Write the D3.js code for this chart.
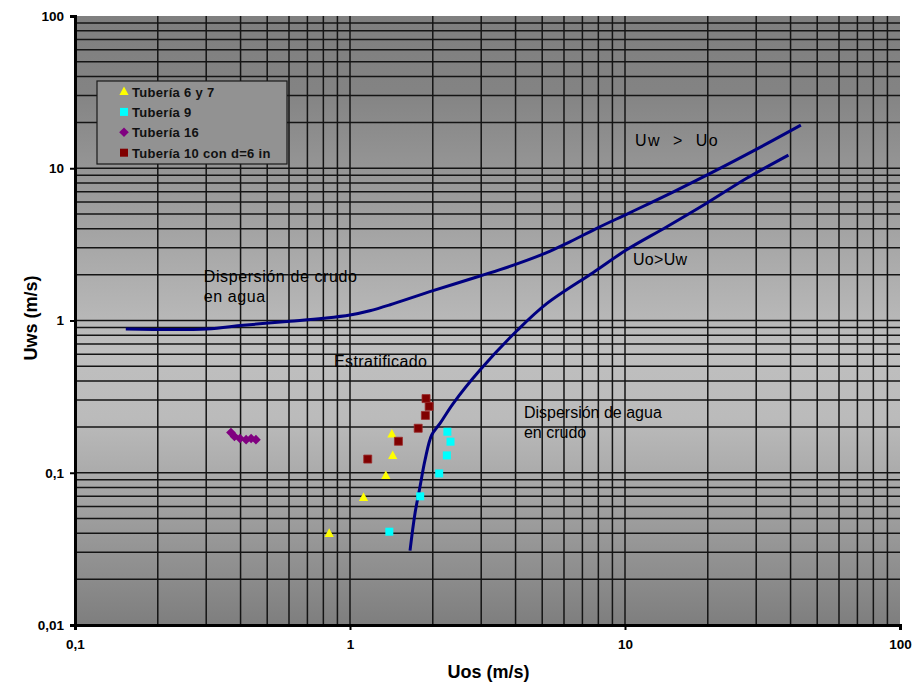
<!DOCTYPE html>
<html>
<head>
<meta charset="utf-8">
<script src="https://cdn.jsdelivr.net/npm/d3@7"></script>
<style>
    body { margin: 0; background: #fff; }
    svg text { font-family: "Liberation Sans", Arial, sans-serif; }
</style>
</head>
<body>
<div id="chart"></div>
<script>
// Series (Uos, Uws in m/s)
const tub67 = [
    {x: 0.84, y: 0.040}, {x: 1.12, y: 0.069}, {x: 1.35, y: 0.096},
    {x: 1.43, y: 0.13}, {x: 1.42, y: 0.18}
];
const tub9 = [
    {x: 1.39, y: 0.041}, {x: 1.80, y: 0.070}, {x: 2.11, y: 0.099},
    {x: 2.25, y: 0.13}, {x: 2.32, y: 0.16}, {x: 2.26, y: 0.186}
];
const tub16 = [
    {x: 0.369, y: 0.184}, {x: 0.380, y: 0.173}, {x: 0.398, y: 0.168},
    {x: 0.419, y: 0.165}, {x: 0.437, y: 0.168}, {x: 0.455, y: 0.165}
];
const tub10 = [
    {x: 1.89, y: 0.307}, {x: 1.94, y: 0.273}, {x: 1.88, y: 0.238},
    {x: 1.77, y: 0.196}, {x: 1.50, y: 0.161}, {x: 1.16, y: 0.123}
];

// Transition boundaries
const curveUwUo = [
    {x: 0.153, y: 0.879}, {x: 0.301, y: 0.879}, {x: 0.409, y: 0.930},
    {x: 0.605, y: 0.988}, {x: 0.80, y: 1.034}, {x: 1.0, y: 1.087},
    {x: 1.18, y: 1.16}, {x: 1.40, y: 1.27}, {x: 1.95, y: 1.546},
    {x: 2.97, y: 1.96}, {x: 3.93, y: 2.31}, {x: 5.19, y: 2.79},
    {x: 6.14, y: 3.21}, {x: 7.89, y: 4.03}, {x: 10.4, y: 5.1},
    {x: 15.0, y: 7.0}, {x: 21.0, y: 9.5}, {x: 29.3, y: 13.0},
    {x: 43.6, y: 19.2}
];
const curveUoUw = [
    {x: 1.653, y: 0.0308}, {x: 1.723, y: 0.054}, {x: 1.797, y: 0.081},
    {x: 1.874, y: 0.121}, {x: 1.982, y: 0.177}, {x: 2.125, y: 0.211},
    {x: 2.375, y: 0.286}, {x: 2.97, y: 0.473}, {x: 4.07, y: 0.866},
    {x: 5.19, y: 1.29}, {x: 7.67, y: 2.07}, {x: 10.1, y: 2.90},
    {x: 14.2, y: 4.13}, {x: 19.8, y: 5.89}, {x: 27.7, y: 8.59},
    {x: 39.3, y: 12.2}
];

const seriesNames = ["Tubería 6 y 7", "Tubería 9", "Tubería 16", "Tubería 10 con d=6 in"];
const seriesColors = ["#ffff00", "#00ffff", "#800080", "#800000"];
const seriesShapes = ["triangle", "square", "diamond", "square"];

const xTicks = [0.1, 1, 10, 100];
const yTicks = [0.01, 0.1, 1, 10, 100];

// Region annotations, anchored in data coordinates
const regionLabels = [
    {lines: ["Uw  >  Uo"], x: 10.87, y: 14.0, spacing: 1.5},
    {lines: ["Uo>Uw"], x: 10.69, y: 2.31, spacing: 0.3},
    {lines: ["Dispersión de crudo", "en agua"], x: 0.294, y: 1.79, spacing: 0.6},
    {lines: ["Estratificado"], x: 0.875, y: 0.497, spacing: 0.4},
    {lines: ["Dispersión de agua", "en crudo"], x: 4.29, y: 0.228, spacing: 0}
];

function markerPath(shape, r) {
    if (shape === "triangle") return `M0,${-r * 1.25}L${r * 1.15},${r * 0.9}L${-r * 1.15},${r * 0.9}Z`;
    if (shape === "diamond") return `M0,${-r * 1.2}L${r * 1.2},0L0,${r * 1.2}L${-r * 1.2},0Z`;
    return `M${-r},${-r}H${r}V${r}H${-r}Z`;
}

class FlowMap {
    constructor(_config) {
        this.config = {parentElement: _config.parentElement};
        this.initVis();
    }

    initVis() {
        let vis = this;

        const margin = {top: 16, right: 14, bottom: 61, left: 75},
            width = 914 - margin.left - margin.right,
            height = 686 - margin.top - margin.bottom;
        vis.width = width;
        vis.height = height;

        vis.xScale = d3.scaleLog().domain([0.1, 100]).range([0, width]);
        vis.yScale = d3.scaleLog().domain([0.01, 100]).range([height, 0]);

        vis.svg = d3.select(vis.config.parentElement)
            .append('svg')
            .attr('width', 914)
            .attr('height', 686);

        const grad = vis.svg.append('defs').append('linearGradient')
            .attr('id', 'bg')
            .attr('x1', 0).attr('y1', 0).attr('x2', 0).attr('y2', 1);
        grad.append('stop').attr('offset', '0%').attr('stop-color', '#7f7f7f');
        grad.append('stop').attr('offset', '12%').attr('stop-color', '#838383');
        grad.append('stop').attr('offset', '55%').attr('stop-color', '#bfbfbf');
        grad.append('stop').attr('offset', '66%').attr('stop-color', '#bbbbbb');
        grad.append('stop').attr('offset', '100%').attr('stop-color', '#7e7e7e');

        vis.chart = vis.svg.append('g')
            .attr('transform', `translate(${margin.left},${margin.top})`);

        vis.chart.append('rect')
            .attr('width', width)
            .attr('height', height)
            .attr('fill', 'url(#bg)');

        // Grid lines at every 1..9 of each decade
        const xGrid = vis.xScale.ticks().filter(d => d > 0.1 && d < 100);
        const yGrid = vis.yScale.ticks().filter(d => d > 0.01 && d < 100);

        vis.chart.append('g')
            .selectAll('line')
            .data(xGrid)
            .join('line')
            .attr('x1', d => vis.xScale(d)).attr('x2', d => vis.xScale(d))
            .attr('y1', 0).attr('y2', height)
            .attr('stroke', '#141414')
            .attr('stroke-width', 1.5);

        vis.chart.append('g')
            .selectAll('line')
            .data(yGrid)
            .join('line')
            .attr('y1', d => vis.yScale(d)).attr('y2', d => vis.yScale(d))
            .attr('x1', 0).attr('x2', width)
            .attr('stroke', '#141414')
            .attr('stroke-width', 1.5);

        const fmt = d => String(d).replace('.', ',');

        // Axes
        vis.xAxisG = vis.chart.append('g')
            .attr('transform', `translate(0,${height})`)
            .call(d3.axisBottom(vis.xScale).tickValues(xTicks).tickFormat(fmt).tickSize(5).tickPadding(9));

        vis.yAxisG = vis.chart.append('g')
            .call(d3.axisLeft(vis.yScale).tickValues(yTicks).tickFormat(fmt).tickSize(5).tickPadding(6));

        [vis.xAxisG, vis.yAxisG].forEach(g => {
            g.select('.domain').attr('stroke', '#000').attr('stroke-width', 3);
            g.selectAll('.tick line').attr('stroke', '#000').attr('stroke-width', 2);
            g.selectAll('.tick text')
                .attr('fill', '#000')
                .style('font-size', '13.5px')
                .style('font-weight', 'bold');
        });

        // Axis titles
        vis.svg.append('text')
            .attr('x', margin.left + width / 2 + 1)
            .attr('y', 678)
            .style('text-anchor', 'middle')
            .style('font-size', '18px')
            .style('font-weight', 'bold')
            .text('Uos (m/s)');

        vis.svg.append('text')
            .attr('transform', 'rotate(-90)')
            .attr('x', -318)
            .attr('y', 37)
            .style('text-anchor', 'middle')
            .style('font-size', '18px')
            .style('font-weight', 'bold')
            .text('Uws (m/s)');

        vis.renderVis();
    }

    renderVis() {
        let vis = this;

        const line = d3.line()
            .x(d => vis.xScale(d.x))
            .y(d => vis.yScale(d.y))
            .curve(d3.curveCatmullRom.alpha(0.5));

        vis.chart.selectAll('.boundary')
            .data([curveUwUo, curveUoUw])
            .join('path')
            .attr('class', 'boundary')
            .attr('d', line)
            .attr('fill', 'none')
            .attr('stroke', '#000080')
            .attr('stroke-width', 3);

        // Region labels
        regionLabels.forEach(l => {
            const t = vis.chart.append('text')
                .attr('x', vis.xScale(l.x))
                .attr('y', vis.yScale(l.y))
                .style('font-size', '16px')
                .style('white-space', 'pre')
                .style('letter-spacing', l.spacing + 'px')
                .attr('fill', '#000');
            l.lines.forEach((s, i) => {
                t.append('tspan')
                    .attr('x', vis.xScale(l.x))
                    .attr('dy', i === 0 ? 0 : 20)
                    .text(s);
            });
        });

        // Scatter series
        const series = [tub67, tub9, tub16, tub10];
        series.forEach((data, i) => {
            vis.chart.append('g')
                .selectAll('path')
                .data(data)
                .join('path')
                .attr('transform', d => `translate(${vis.xScale(d.x)},${vis.yScale(d.y)})`)
                .attr('d', markerPath(seriesShapes[i], 4))
                .attr('fill', seriesColors[i])
                .attr('stroke', i === 3 ? '#9a2a2a' : 'none')
                .attr('stroke-width', 0.8);
        });

        // Legend
        const legend = vis.svg.append('g')
            .attr('transform', 'translate(97,81)');
        legend.append('rect')
            .attr('width', 190)
            .attr('height', 83)
            .attr('fill', '#929292')
            .attr('stroke', '#1a1a1a')
            .attr('stroke-width', 1.2);

        const rows = legend.selectAll('.row')
            .data(seriesNames)
            .join('g')
            .attr('class', 'row')
            .attr('transform', (d, i) => `translate(27,${10.5 + i * 20.4})`);

        rows.append('path')
            .attr('d', (d, i) => markerPath(seriesShapes[i], 4))
            .attr('fill', (d, i) => seriesColors[i]);

        rows.append('text')
            .attr('x', 8)
            .attr('y', 5)
            .style('font-size', '13px')
            .style('font-weight', 'bold')
            .style('letter-spacing', '0.3px')
            .attr('fill', '#111')
            .text(d => d);
    }
}

new FlowMap({parentElement: '#chart'});
</script>
</body>
</html>
